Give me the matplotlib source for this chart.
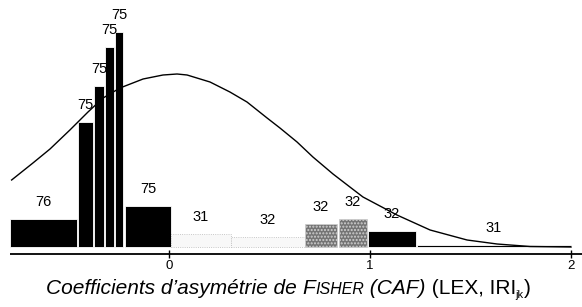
import matplotlib
matplotlib.use("Agg")
import matplotlib.pyplot as plt

# bar classes: left edge, width, height, label, fill
bar_left = [-0.791, -0.453, -0.373, -0.318, -0.269, -0.219,
            0.010, 0.308, 0.677, 0.846, 0.990, 1.234]
bar_width = [0.333, 0.075, 0.050, 0.045, 0.040, 0.229,
             0.298, 0.369, 0.159, 0.139, 0.239, 0.766]
bar_height = [2.8, 12.5, 16.1, 20.0, 21.5, 4.1,
              1.3, 1.0, 2.3, 2.8, 1.6, 0.2]
bar_labels = ["76", "75", "75", "75", "75", "75",
              "31", "32", "32", "32", "32", "31"]
bar_kind = ["black", "black", "black", "black", "black", "black",
            "light", "light", "grey", "grey", "black", "black"]

# fitted curve
curve_x = [-0.783, -0.677, -0.592, -0.493, -0.403, -0.328, -0.244, -0.129,
           -0.030, 0.040, 0.090, 0.204, 0.303, 0.388, 0.488, 0.552, 0.637,
           0.716, 0.816, 0.900, 0.965, 1.134, 1.299, 1.483, 1.632, 1.796,
           2.000]
curve_y = [6.7, 8.4, 9.8, 11.7, 13.5, 14.9, 15.9, 16.8,
           17.2, 17.3, 17.2, 16.5, 15.5, 14.5, 12.9, 11.9, 10.5,
           9.0, 7.3, 6.0, 5.0, 3.2, 1.7, 0.7, 0.3, 0.05,
           0.0]

xticks = [0, 1, 2]

FONT = "Liberation Sans"


def draw_bars(ax):
    for left, w, h, lab, kind in zip(bar_left, bar_width, bar_height,
                                     bar_labels, bar_kind):
        if kind == "black":
            ax.bar(left, h, w, align="edge", color="black",
                   edgecolor="white", linewidth=0.6)
        elif kind == "light":
            ax.bar(left, h, w, align="edge", color="#f8f8f8",
                   edgecolor="#b8b8b8", linewidth=0.6, linestyle=":")
        else:
            ax.bar(left, h, w, align="edge", color="#747474",
                   edgecolor="#d0d0d0", linewidth=0.5, hatch=".....")
        ax.text(left + w / 2, h + 1.7, lab, ha="center", va="center",
                fontsize=10.5, family=FONT)


def draw_axis(ax):
    ax.hlines(-0.7, bar_left[0], 2.1, color="black", linewidth=1.3)
    for t in xticks:
        ax.vlines(t, -1.1, -0.3, color="black", linewidth=1.0)
        ax.text(t, -1.9, str(t), ha="center", va="center",
                fontsize=9.5, family=FONT)


def draw_xlabel(fig):
    # pieces of the label, laid out one after the other
    parts = [
        ("Coefficients d\u2019asymétrie de ", 15, "italic", 0),
        ("F", 15, "italic", 0),
        ("ISHER", 11.5, "italic", 0),
        (" (CAF)", 15, "italic", 0),
        (" (LEX, IRI", 15, "normal", 0),
        ("jk", 8, "normal", -4),
        (")", 15, "normal", 0),
    ]
    renderer = fig.canvas.get_renderer()
    W, H = fig.bbox.width, fig.bbox.height
    x = 46
    base = 307 - 294
    for s, size, style, dy in parts:
        t = fig.text(x / W, (base + dy) / H, s, fontsize=size, style=style,
                     family=FONT, ha="left", va="baseline")
        x += t.get_window_extent(renderer).width


def main():
    fig = plt.figure(figsize=(5.82, 3.07), dpi=100)
    ax = fig.add_axes([0, 0, 1, 1])
    ax.set_xlim(-0.8408, 2.0547)
    ax.set_ylim(-6.0, 24.7)
    ax.axis("off")

    draw_bars(ax)
    ax.plot(curve_x, curve_y, color="black", linewidth=1.0)
    draw_axis(ax)
    draw_xlabel(fig)

    fig.savefig("out.png", dpi=100)


if __name__ == "__main__":
    main()
